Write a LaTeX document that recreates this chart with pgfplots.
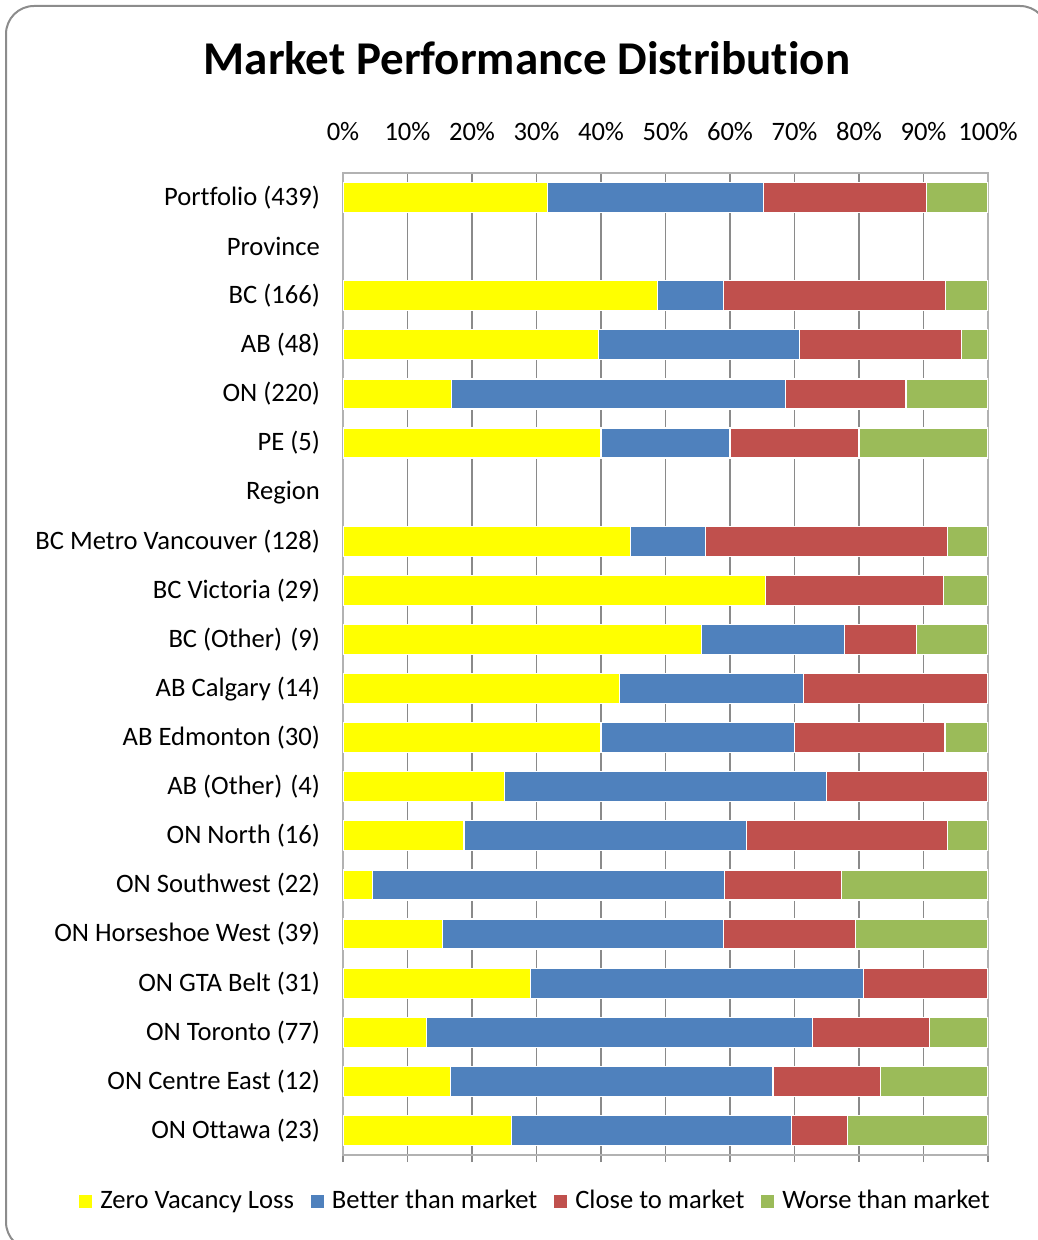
\documentclass[border=0pt]{standalone}
\usepackage{pgfplots}
\pgfplotsset{compat=1.18}
\usepackage{fontspec}
\setmainfont{Carlito}[Ligatures=NoCommon]
\definecolor{cYel}{HTML}{FFFF00}
\definecolor{cBlu}{HTML}{4F81BD}
\definecolor{cRed}{HTML}{C0504D}
\definecolor{cGrn}{HTML}{9BBB59}
\definecolor{gridgray}{HTML}{8A8A8A}
\definecolor{framegray}{HTML}{8C8C8C}

% shares (%) per row: rows 1 (Province) and 6 (Region) are headings without bars
\pgfplotstableread{
y  zero   better  close  worse
0  31.66  33.49   25.28  9.57
2  48.80  10.24   34.34  6.63
3  39.58  31.25   25.00  4.17
4  16.82  51.82   18.64  12.73
5  40.00  20.00   20.00  20.00
7  44.53  11.72   37.50  6.25
8  65.52  0       27.59  6.90
9  55.56  22.22   11.11  11.11
10 42.86  28.57   28.57  0
11 40.00  30.00   23.33  6.67
12 25.00  50.00   25.00  0
13 18.75  43.75   31.25  6.25
14 4.55   54.55   18.18  22.73
15 15.38  43.59   20.51  20.51
16 29.03  51.61   19.35  0
17 12.99  59.74   18.18  9.09
18 16.67  50.00   16.67  16.67
19 26.09  43.48   8.70   21.74
}\datatable

\begin{document}
\begin{tikzpicture}
\useasboundingbox (0,0) rectangle (518.5pt,-620pt);
\draw[framegray,line width=1pt,rounded corners=14pt] (3pt,-3pt) rectangle (524pt,-625pt);
\node[font=\fontsize{23.5}{27}\selectfont\bfseries] at (263.5pt,-29pt) {Market Performance Distribution};
\begin{axis}[at={(171.5pt,-577.5pt)},anchor=south west,
  scale only axis,width=322.5pt,height=491pt,
  xbar stacked,bar width=15pt,
  xmin=0,xmax=100,ymin=-0.5,ymax=19.5,y dir=reverse,
  xtick={0,10,...,100},
  xticklabels={0\%,10\%,20\%,30\%,40\%,50\%,60\%,70\%,80\%,90\%,100\%},
  xticklabel pos=upper,xtick pos=lower,tick align=outside,
  major tick length=3.5pt,
  ytick={0,...,19},
  yticklabels={Portfolio (439),Province,BC (166),AB (48),ON (220),PE (5),Region,
    BC Metro Vancouver (128),BC Victoria (29),BC (Other)\kern1pt\ (9),AB Calgary (14),
    AB Edmonton (30),AB (Other)\kern1pt\ (4),ON North (16),ON Southwest (22),
    ON Horseshoe West (39),ON GTA Belt (31),ON Toronto (77),ON Centre East (12),
    ON Ottawa (23)},
  ytick style={draw=none},
  xmajorgrids,grid style={gridgray,line width=0.6pt},
  x tick style={gridgray,line width=0.6pt},
  axis line style={gray!60,line width=0.6pt},
  tick label style={font=\fontsize{13.3}{15}\selectfont},
  xticklabel style={yshift=9pt},
  yticklabel style={xshift=-4.5pt},
  legend columns=4,
  legend style={at={(0.30,-0.047)},anchor=center,draw=none,fill=none,
    font=\fontsize{13.3}{15}\selectfont,
    /tikz/every odd column/.append style={column sep=2pt},
    /tikz/every even column/.append style={column sep=6.5pt}},
  legend image code/.code={\fill[#1,draw=none] (0pt,-3.2pt) rectangle (6.5pt,3.3pt);},
  every axis plot/.append style={draw=white,line width=0.6pt}]
\addplot[fill=cYel] table[x=zero,y=y]{\datatable};
\addplot[fill=cBlu] table[x=better,y=y]{\datatable};
\addplot[fill=cRed] table[x=close,y=y]{\datatable};
\addplot[fill=cGrn] table[x=worse,y=y]{\datatable};
\legend{Zero Vacancy Loss,Better than market,Close to market,Worse than market}
\end{axis}
\end{tikzpicture}
\end{document}
